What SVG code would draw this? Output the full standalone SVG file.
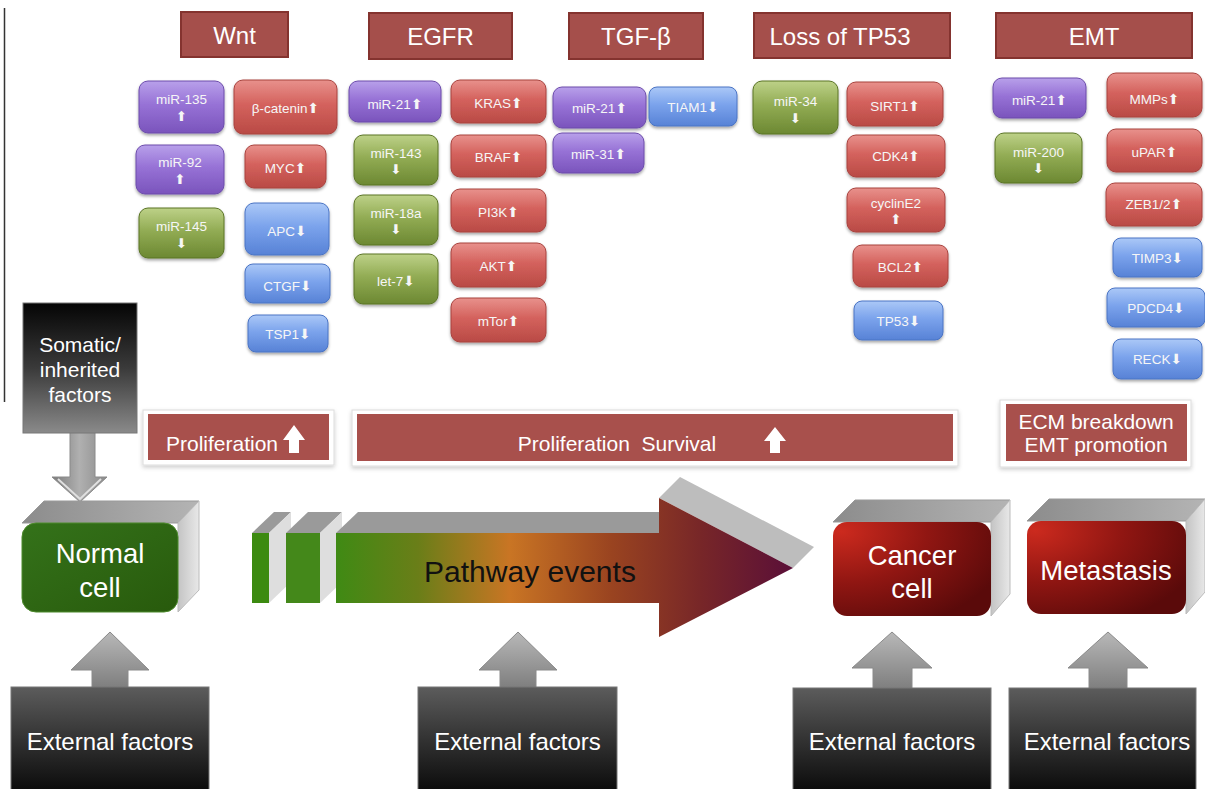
<svg xmlns="http://www.w3.org/2000/svg" width="1205" height="789" viewBox="0 0 1205 789">
<defs>
<linearGradient id="gRed" x1="0" y1="0" x2="0" y2="1"><stop offset="0" stop-color="#e8918c"/><stop offset="0.45" stop-color="#d4625d"/><stop offset="1" stop-color="#b94a45"/></linearGradient>
<linearGradient id="gPur" x1="0" y1="0" x2="0" y2="1"><stop offset="0" stop-color="#b8a0ea"/><stop offset="0.45" stop-color="#9772d6"/><stop offset="1" stop-color="#7a54bc"/></linearGradient>
<linearGradient id="gGrn" x1="0" y1="0" x2="0" y2="1"><stop offset="0" stop-color="#bdd188"/><stop offset="0.45" stop-color="#92ac54"/><stop offset="1" stop-color="#6c8832"/></linearGradient>
<linearGradient id="gBlu" x1="0" y1="0" x2="0" y2="1"><stop offset="0" stop-color="#abc8f7"/><stop offset="0.45" stop-color="#7ba3ec"/><stop offset="1" stop-color="#5782d6"/></linearGradient>
<linearGradient id="gDark" x1="0" y1="0" x2="0" y2="1"><stop offset="0" stop-color="#5c5c5c"/><stop offset="0.5" stop-color="#333"/><stop offset="1" stop-color="#0c0c0c"/></linearGradient>
<linearGradient id="gSom" x1="0" y1="0" x2="0" y2="1"><stop offset="0" stop-color="#050505"/><stop offset="0.5" stop-color="#3a3a3a"/><stop offset="1" stop-color="#8a8a8a"/></linearGradient>
<linearGradient id="gArr" x1="0" y1="0" x2="0" y2="1"><stop offset="0" stop-color="#b8b8b8"/><stop offset="1" stop-color="#7c7c7c"/></linearGradient>
<linearGradient id="gArrH" x1="0" y1="0" x2="1" y2="0"><stop offset="0" stop-color="#7a7a7a"/><stop offset="0.5" stop-color="#b0b0b0"/><stop offset="1" stop-color="#8a8a8a"/></linearGradient>
<linearGradient id="gTop" x1="0" y1="0" x2="1" y2="0"><stop offset="0" stop-color="#8c8c8c"/><stop offset="1" stop-color="#b4b4b4"/></linearGradient>
<linearGradient id="gSide" x1="0" y1="0" x2="1" y2="0"><stop offset="0" stop-color="#c4c4c4"/><stop offset="1" stop-color="#e8e8e8"/></linearGradient>
<linearGradient id="gNorm" x1="0" y1="0" x2="1" y2="1"><stop offset="0" stop-color="#34721a"/><stop offset="1" stop-color="#285a0c"/></linearGradient>
<radialGradient id="gCan" cx="0.05" cy="0.1" r="1.1"><stop offset="0" stop-color="#cc2a1e"/><stop offset="0.5" stop-color="#901612"/><stop offset="1" stop-color="#5a0a0a"/></radialGradient>
<linearGradient id="gPath" x1="336" y1="0" x2="793" y2="0" gradientUnits="userSpaceOnUse"><stop offset="0" stop-color="#3f8a14"/><stop offset="0.18" stop-color="#6a7e18"/><stop offset="0.38" stop-color="#c97524"/><stop offset="0.6" stop-color="#9a4420"/><stop offset="0.8" stop-color="#772628"/><stop offset="1" stop-color="#5a0f38"/></linearGradient>
<filter id="sh" x="-10%" y="-10%" width="120%" height="140%"><feDropShadow dx="0" dy="2" stdDeviation="1.5" flood-color="#000" flood-opacity="0.35"/></filter>
<filter id="sh2" x="-5%" y="-10%" width="110%" height="130%"><feDropShadow dx="0" dy="2" stdDeviation="2" flood-color="#000" flood-opacity="0.2"/></filter>
</defs>
<style>
text{font-family:"Liberation Sans",Arial,sans-serif;text-anchor:middle}
.pr rect{fill:url(#gRed);stroke:#a8423e;stroke-width:1;filter:url(#sh)}
.pp rect{fill:url(#gPur);stroke:#6c4cab;stroke-width:1;filter:url(#sh)}
.pg rect{fill:url(#gGrn);stroke:#5a7426;stroke-width:1;filter:url(#sh)}
.pb rect{fill:url(#gBlu);stroke:#4a74c4;stroke-width:1;filter:url(#sh)}
.pill text{font-size:13.5px;fill:#f6f6f6}
.ar{font-family:"DejaVu Sans",sans-serif;font-size:14px}
.hd rect{fill:#a54f4b;stroke:#84332f;stroke-width:2}
.hd text{font-size:24px;fill:#fff}
.fr{fill:#fff;stroke:#dcdcdc;stroke-width:1;filter:url(#sh2)}
.in{fill:#a8504c}
.lbl{font-size:21px;fill:#fff}
.big{font-size:27.5px;fill:#fff}
.ext{font-size:24px;fill:#fff}
.top{fill:url(#gTop)}
.side{fill:url(#gSide)}
.xarr{fill:url(#gArr);stroke:#8a8a8a;stroke-width:1}
.xbox{fill:url(#gDark);stroke:#777;stroke-width:1}
</style>
<rect width="1205" height="789" fill="#fff"/>
<line x1="4.5" y1="8" x2="4.5" y2="402" stroke="#333" stroke-width="1.5"/>

<g id="h-wnt" class="hd"><rect x="181" y="12" width="107" height="45"/><text x="234.5" y="44">Wnt</text></g>
<g id="h-egfr" class="hd"><rect x="369" y="13" width="143" height="46"/><text x="440.5" y="45">EGFR</text></g>
<g id="h-tgf" class="hd"><rect x="569" y="13" width="134" height="46"/><text x="636" y="45">TGF-β</text></g>
<g id="h-tp53" class="hd"><rect x="754" y="13" width="196" height="45"/><text x="840" y="45">Loss of TP53</text></g>
<g id="h-emt" class="hd"><rect x="996" y="13" width="196" height="45"/><text x="1094" y="45">EMT</text></g>

<g id="p-mir135" class="pill pp"><rect x="139" y="81" width="85" height="52" rx="9"/><text x="181.5" y="104">miR-135</text><text class="ar" x="181.5" y="121">⬆</text></g>
<g id="p-mir92" class="pill pp"><rect x="136" y="145" width="88" height="49" rx="9"/><text x="180" y="167">miR-92</text><text class="ar" x="180" y="184">⬆</text></g>
<g id="p-mir145" class="pill pg"><rect x="139" y="208" width="85" height="50" rx="9"/><text x="181.5" y="231">miR-145</text><text class="ar" x="181.5" y="248">⬇</text></g>
<g id="p-bcat" class="pill pr"><rect x="234" y="80" width="103" height="54" rx="9"/><text x="285.5" y="113">β-catenin<tspan class="ar">⬆</tspan></text></g>
<g id="p-myc" class="pill pr"><rect x="245" y="145" width="81" height="43" rx="9"/><text x="285.5" y="173">MYC<tspan class="ar">⬆</tspan></text></g>
<g id="p-apc" class="pill pb"><rect x="245" y="203" width="84" height="52" rx="9"/><text x="287" y="236">APC<tspan class="ar">⬇</tspan></text></g>
<g id="p-ctgf" class="pill pb"><rect x="245" y="264" width="85" height="39" rx="8"/><text x="287.5" y="291">CTGF<tspan class="ar">⬇</tspan></text></g>
<g id="p-tsp1" class="pill pb"><rect x="248" y="315" width="80" height="37" rx="8"/><text x="288" y="339">TSP1<tspan class="ar">⬇</tspan></text></g>

<g id="p-mir21a" class="pill pp"><rect x="349" y="81" width="92" height="41" rx="9"/><text x="395" y="109">miR-21<tspan class="ar">⬆</tspan></text></g>
<g id="p-mir143" class="pill pg"><rect x="354" y="135" width="84" height="50" rx="9"/><text x="396" y="158">miR-143</text><text class="ar" x="396" y="174">⬇</text></g>
<g id="p-mir18a" class="pill pg"><rect x="354" y="195" width="84" height="50" rx="9"/><text x="396" y="218">miR-18a</text><text class="ar" x="396" y="234">⬇</text></g>
<g id="p-let7" class="pill pg"><rect x="354" y="254" width="84" height="50" rx="9"/><text x="396" y="286">let-7<tspan class="ar">⬇</tspan></text></g>
<g id="p-kras" class="pill pr"><rect x="451" y="80" width="95" height="43" rx="9"/><text x="498.5" y="108">KRAS<tspan class="ar">⬆</tspan></text></g>
<g id="p-braf" class="pill pr"><rect x="451" y="135" width="95" height="42" rx="9"/><text x="498.5" y="162">BRAF<tspan class="ar">⬆</tspan></text></g>
<g id="p-pi3k" class="pill pr"><rect x="451" y="189" width="95" height="43" rx="9"/><text x="498.5" y="217">PI3K<tspan class="ar">⬆</tspan></text></g>
<g id="p-akt" class="pill pr"><rect x="451" y="243" width="95" height="44" rx="9"/><text x="498.5" y="271">AKT<tspan class="ar">⬆</tspan></text></g>
<g id="p-mtor" class="pill pr"><rect x="451" y="298" width="95" height="44" rx="9"/><text x="498.5" y="326">mTor<tspan class="ar">⬆</tspan></text></g>

<g id="p-mir21b" class="pill pp"><rect x="553" y="87" width="93" height="41" rx="9"/><text x="599.5" y="113">miR-21<tspan class="ar">⬆</tspan></text></g>
<g id="p-mir31" class="pill pp"><rect x="553" y="133" width="91" height="40" rx="9"/><text x="598.5" y="159">miR-31<tspan class="ar">⬆</tspan></text></g>
<g id="p-tiam1" class="pill pb"><rect x="649" y="87" width="88" height="39" rx="8"/><text x="693" y="112">TIAM1<tspan class="ar">⬇</tspan></text></g>

<g id="p-mir34" class="pill pg"><rect x="753" y="81" width="85" height="53" rx="9"/><text x="795.5" y="106">miR-34</text><text class="ar" x="795.5" y="123">⬇</text></g>
<g id="p-sirt1" class="pill pr"><rect x="847" y="82" width="96" height="44" rx="9"/><text x="895" y="111">SIRT1<tspan class="ar">⬆</tspan></text></g>
<g id="p-cdk4" class="pill pr"><rect x="847" y="135" width="98" height="42" rx="9"/><text x="896" y="161">CDK4<tspan class="ar">⬆</tspan></text></g>
<g id="p-cyce2" class="pill pr"><rect x="847" y="188" width="98" height="44" rx="9"/><text x="896" y="208">cyclinE2</text><text class="ar" x="896" y="224">⬆</text></g>
<g id="p-bcl2" class="pill pr"><rect x="853" y="245" width="95" height="42" rx="9"/><text x="900.5" y="272">BCL2<tspan class="ar">⬆</tspan></text></g>
<g id="p-tp53" class="pill pb"><rect x="854" y="301" width="89" height="39" rx="8"/><text x="898.5" y="326">TP53<tspan class="ar">⬇</tspan></text></g>

<g id="p-mir21c" class="pill pp"><rect x="993" y="78" width="93" height="40" rx="9"/><text x="1039.5" y="105">miR-21<tspan class="ar">⬆</tspan></text></g>
<g id="p-mir200" class="pill pg"><rect x="995" y="133" width="87" height="50" rx="9"/><text x="1038.5" y="157">miR-200</text><text class="ar" x="1038.5" y="173">⬇</text></g>
<g id="p-mmps" class="pill pr"><rect x="1107" y="73" width="95" height="44" rx="9"/><text x="1154.5" y="104">MMPs<tspan class="ar">⬆</tspan></text></g>
<g id="p-upar" class="pill pr"><rect x="1107" y="129" width="95" height="43" rx="9"/><text x="1154.5" y="157">uPAR<tspan class="ar">⬆</tspan></text></g>
<g id="p-zeb" class="pill pr"><rect x="1106" y="183" width="96" height="43" rx="9"/><text x="1154" y="209">ZEB1/2<tspan class="ar">⬆</tspan></text></g>
<g id="p-timp3" class="pill pb"><rect x="1113" y="238" width="89" height="39" rx="8"/><text x="1157.5" y="263">TIMP3<tspan class="ar">⬇</tspan></text></g>
<g id="p-pdcd4" class="pill pb"><rect x="1107" y="288" width="98" height="39" rx="8"/><text x="1156" y="313">PDCD4<tspan class="ar">⬇</tspan></text></g>
<g id="p-reck" class="pill pb"><rect x="1113" y="339" width="89" height="40" rx="8"/><text x="1157.5" y="364">RECK<tspan class="ar">⬇</tspan></text></g>

<g id="somatic">
<path d="M70,430 V477 H52 L80,502 L107,477 H95 V430 Z" fill="url(#gArrH)" stroke="#8a8a8a"/>
<path d="M58,479 L80,499 L101,479" fill="none" stroke="#e0e0e0" stroke-width="2"/>
<rect x="23" y="303" width="114" height="130" fill="url(#gSom)" stroke="#777" stroke-width="1"/>
<text class="lbl" x="80" y="352">Somatic/</text>
<text class="lbl" x="80" y="377">inherited</text>
<text class="lbl" x="80" y="402">factors</text>
</g>

<g id="prolif1"><rect class="fr" x="143" y="410" width="191" height="55"/><rect class="in" x="148" y="414" width="181" height="46"/><text class="lbl" x="222" y="451">Proliferation</text><path d="M283,440 L294,425 L305,440 H299 V453 H289 V440 Z" fill="#fff"/></g>
<g id="prolif2"><rect class="fr" x="352" y="410" width="606" height="56"/><rect class="in" x="357" y="414" width="596" height="47"/><text class="lbl" x="617" y="451" style="white-space:pre">Proliferation  Survival</text><path d="M764,441 L775,427 L786,441 H780 V453 H770 V441 Z" fill="#fff"/></g>
<g id="ecm"><rect class="fr" x="1000" y="400" width="191" height="67"/><rect class="in" x="1006" y="404" width="181" height="57"/><text class="lbl" x="1096" y="429">ECM breakdown</text><text class="lbl" x="1096" y="452">EMT promotion</text></g>

<g id="normal">
<polygon class="top" points="22,523 44,501 199,501 178,523" stroke="#999" stroke-linejoin="round"/>
<polygon class="side" points="178,523 199,501 199,590 178,612" stroke="#bbb" stroke-linejoin="round"/>
<rect x="22" y="523" width="156" height="89" rx="14" fill="url(#gNorm)" stroke="#4d8a2c"/>
<text class="big" x="100" y="563">Normal</text><text class="big" x="100" y="597">cell</text>
</g>

<g id="pathway">
<polygon points="252,533 274,512 291,512 269,533" fill="#9a9a9a"/>
<polygon points="269,533 291,512 291,582 269,603" fill="#dedede"/>
<rect x="252" y="533" width="17" height="70" fill="#3c8a10"/>
<polygon points="286,533 308,512 342,512 320,533" fill="#9a9a9a"/>
<polygon points="320,533 342,512 342,582 320,603" fill="#dedede"/>
<rect x="286" y="533" width="34" height="70" fill="#44881a"/>
<polygon points="336,533 358,512 680,512 659,533" fill="#9a9a9a"/>
<polygon points="659,498 680,477 814,547 793,568" fill="#bdbdbd"/>
<path d="M336,533 H659 V498 L793,568 L659,637 V603 H336 Z" fill="url(#gPath)"/>
<text x="530" y="582" font-size="30" fill="#111">Pathway events</text>
</g>

<g id="cancer">
<polygon class="top" points="833,522 855,500 1010,500 991,522" stroke="#999" stroke-linejoin="round"/>
<polygon class="side" points="991,522 1010,500 1010,594 991,616" stroke="#bbb" stroke-linejoin="round"/>
<rect x="833" y="522" width="158" height="94" rx="14" fill="url(#gCan)"/>
<text class="big" x="912" y="565">Cancer</text><text class="big" x="912" y="598">cell</text>
</g>

<g id="metastasis">
<polygon class="top" points="1027,521 1049,499 1205,499 1186,521" stroke="#999" stroke-linejoin="round"/>
<polygon class="side" points="1186,521 1205,499 1205,592 1186,614" stroke="#bbb" stroke-linejoin="round"/>
<rect x="1027" y="521" width="159" height="93" rx="14" fill="url(#gCan)"/>
<text class="big" x="1106" y="580">Metastasis</text>
</g>

<g id="ext1"><path class="xarr" d="M92,690 V670 H71 L110,632 L149,670 H128 V690 Z"/><rect class="xbox" x="11" y="687" width="198" height="103"/><text class="ext" x="110" y="750">External factors</text></g>
<g id="ext2"><path class="xarr" d="M500,690 V670 H479 L518,632 L557,670 H536 V690 Z"/><rect class="xbox" x="418" y="687" width="199" height="103"/><text class="ext" x="517.5" y="750">External factors</text></g>
<g id="ext3"><path class="xarr" d="M873,691 V668 H852 L892,632 L932,668 H912 V691 Z"/><rect class="xbox" x="793" y="688" width="198" height="102"/><text class="ext" x="892" y="750">External factors</text></g>
<g id="ext4"><path class="xarr" d="M1089,691 V668 H1068 L1108,632 L1148,668 H1127 V691 Z"/><rect class="xbox" x="1009" y="688" width="187" height="102"/><text class="ext" x="1107" y="750">External factors</text></g>

<g id="connectors"></g>
</svg>
